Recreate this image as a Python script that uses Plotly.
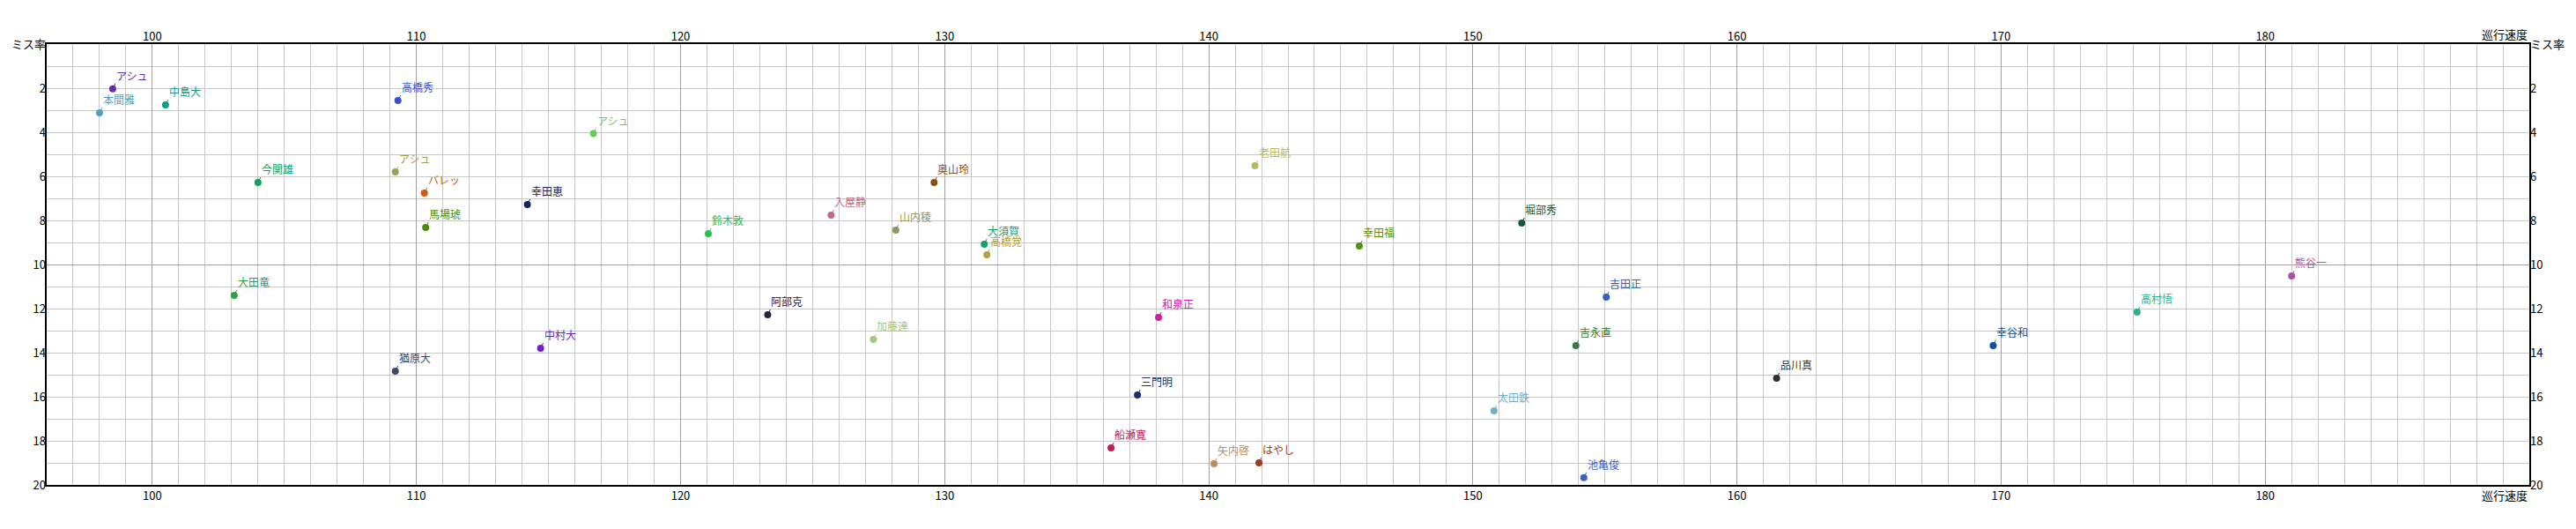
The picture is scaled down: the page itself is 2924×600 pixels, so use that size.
import plotly.graph_objects as go

names = ["アシュ", "本間雅", "中島大", "高橋秀", "今関雄", "アシュ", "バレッ", "馬場琥",
         "アシュ", "幸田恵", "鈴木敦", "大田竜", "猶原大", "中村大", "阿部克", "入屋静",
         "山内稜", "奥山玲", "大須賀", "高橋覚", "加藤達", "和泉正", "三門明", "船瀬寛",
         "矢内啓", "はやし", "太田鉄", "吉永直", "吉田正", "池亀俊", "老田航", "幸田福",
         "堀部秀", "品川真", "幸谷和", "熊谷一", "高村悟"]
speed = [98.5, 98.0, 100.5, 109.3, 104.0, 109.2, 110.3, 110.35,
         116.7, 114.2, 121.05, 103.1, 109.2, 114.7, 123.3, 125.7,
         128.15, 129.6, 131.5, 131.6, 127.3, 138.1, 137.3, 136.3,
         140.2, 141.9, 150.8, 153.9, 155.05, 154.2, 141.75, 145.7,
         151.85, 161.5, 169.7, 181.0, 175.15]
miss = [2.03, 3.12, 2.76, 2.56, 6.28, 5.8, 6.76, 8.32,
        4.06, 7.28, 8.6, 11.4, 14.84, 13.8, 12.28, 7.76,
        8.44, 6.28, 9.08, 9.56, 13.4, 12.4, 15.92, 18.32,
        19.04, 19.0, 16.64, 13.68, 11.48, 19.67, 5.52, 9.16,
        8.12, 15.16, 13.68, 10.52, 12.16]
colors = ["#6a2c9a", "#4fa0c0", "#169a80", "#3a50d0", "#10a060", "#9aa055", "#d05a10", "#4a8a10",
          "#6cc860", "#14245a", "#30c050", "#30a040", "#3a4a6a", "#7020d0", "#2a2040", "#c06a8a",
          "#8a9a60", "#8a5010", "#10a070", "#b0a040", "#a0c880", "#d020a0", "#202a70", "#c02050",
          "#c08a60", "#a03a20", "#70b0c0", "#3a7a40", "#3060c0", "#4060c0", "#b8b860", "#5a9010",
          "#105a3a", "#303030", "#1050a0", "#b050a0", "#30b090"]

x_ticks = [100, 110, 120, 130, 140, 150, 160, 170, 180]
y_ticks = [0, 2, 4, 6, 8, 10, 12, 14, 16, 18, 20]
y_ticktext = ["ミス率"] + [str(v) for v in y_ticks[1:]]
x_title = "巡行速度"
x_range = [96, 190]
y_range = [20, 0]

FONT = "Noto Sans CJK JP"

fig = go.Figure()
fig.add_trace(go.Scatter(x=speed, y=miss, mode="markers",
                         marker=dict(size=8, color=colors),
                         text=names, hoverinfo="text", showlegend=False))
fig.add_trace(go.Scatter(x=speed, y=miss, xaxis="x2", yaxis="y2", mode="markers",
                         marker=dict(opacity=0), hoverinfo="skip", showlegend=False))
fig.add_trace(go.Scatter(x=speed, y=miss, xaxis="x", yaxis="y3", mode="markers",
                         marker=dict(opacity=0), hoverinfo="skip", showlegend=False))

for n, xv, yv, c in zip(names, speed, miss, colors):
    fig.add_annotation(x=xv, y=yv, text=n, showarrow=True, arrowhead=0, arrowwidth=1,
                       arrowcolor=c, ax=3, ay=-6, xanchor="left", yanchor="bottom",
                       font=dict(family=FONT, size=12, color=c), borderpad=0,
                       standoff=0)

for yp, ya in [(1, "bottom"), (0, "top")]:
    fig.add_annotation(xref="paper", yref="paper", x=1, y=yp, text=x_title,
                       showarrow=False, xanchor="right", yanchor=ya,
                       font=dict(family=FONT, size=13, color="black"))

tickfont = dict(family=FONT, size=13, color="black")
fig.update_layout(
    width=2908, height=584,
    margin=dict(l=45, r=45, t=42, b=42, autoexpand=False),
    paper_bgcolor="white", plot_bgcolor="white",
    font=dict(family=FONT),
    xaxis=dict(range=x_range, tickmode="array", tickvals=x_ticks, ticks="",
               automargin=False,
               showgrid=True, gridcolor="#a0a0a0", gridwidth=1,
               minor=dict(tickmode="linear", tick0=96, dtick=1, showgrid=True,
                          gridcolor="#c8c8c8", gridwidth=1),
               showline=True, linecolor="black", linewidth=1.5, mirror=True,
               zeroline=False, tickfont=tickfont),
    xaxis2=dict(range=x_range, overlaying="x", side="top", anchor="y2",
                automargin=False,
                tickmode="array", tickvals=x_ticks, ticks="", showgrid=False,
                zeroline=False, tickfont=tickfont),
    yaxis=dict(range=y_range, tickmode="linear", tick0=0, dtick=10,
               automargin=False,
               showticklabels=False, ticks="",
               showgrid=True, gridcolor="#a0a0a0", gridwidth=1,
               minor=dict(tickmode="linear", tick0=0, dtick=1, showgrid=True,
                          gridcolor="#c8c8c8", gridwidth=1),
               showline=True, linecolor="black", linewidth=1.5, mirror=True,
               zeroline=False),
    yaxis2=dict(range=y_range, overlaying="y", side="left", anchor="x2",
                automargin=False,
                tickmode="array", tickvals=y_ticks, ticktext=y_ticktext, ticks="",
                showgrid=False, zeroline=False, tickfont=tickfont),
    yaxis3=dict(range=y_range, overlaying="y", side="right", anchor="x",
                automargin=False,
                tickmode="array", tickvals=y_ticks, ticktext=y_ticktext, ticks="",
                showgrid=False, zeroline=False, tickfont=tickfont),
)

fig.write_html("out.html")
